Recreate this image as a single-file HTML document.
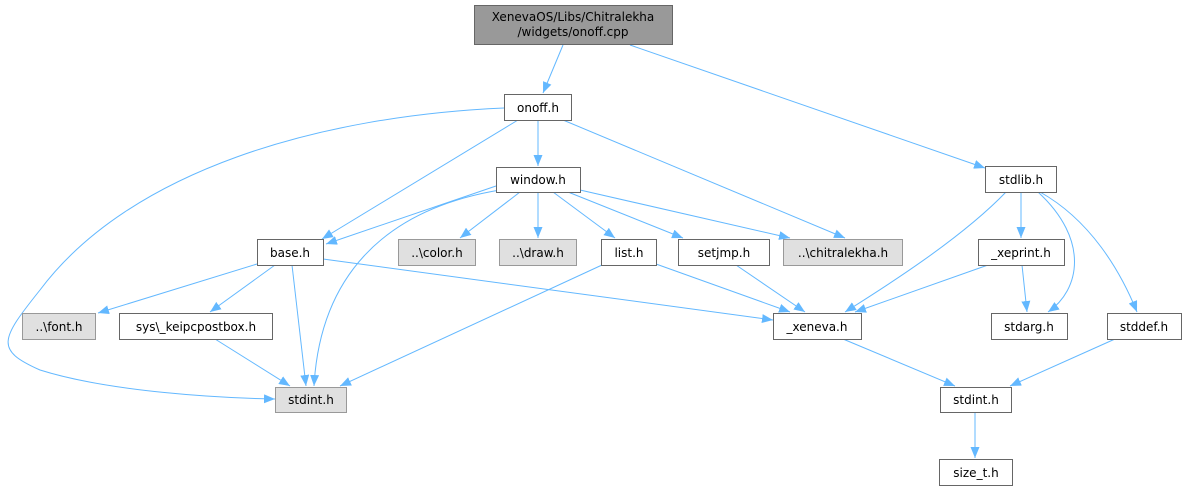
<!DOCTYPE html>
<html><head><meta charset="utf-8"><style>
html,body{margin:0;padding:0;background:#fff;}
svg text{font-family:"DejaVu Sans","Liberation Sans",sans-serif;font-size:12px;fill:#000;text-anchor:middle;}
</style></head><body>
<svg width="1186" height="491" viewBox="0 0 1186 491" xmlns="http://www.w3.org/2000/svg">
<defs><marker id="a" markerWidth="11" markerHeight="9" refX="11" refY="4.5" orient="auto" markerUnits="userSpaceOnUse"><path d="M0,0 L11,4.5 L0,9 z" fill="#63b8ff"/></marker></defs>
<g fill="none" stroke="#63b8ff" stroke-width="1" marker-end="url(#a)">
<path d="M563,45 L543,93"/>
<path d="M630,45 L985,168"/>
<path d="M504,108 C320,116 130,170 40,290 C0,340 -5,350 40,370 C110,392 220,398 275,399"/>
<path d="M518,120 L322,239"/>
<path d="M538,120 L538,166"/>
<path d="M563,120 L845,238"/>
<path d="M496,186 L326,244"/>
<path d="M500,190 C380,210 320,280 314,386"/>
<path d="M520,192 L460,238"/>
<path d="M538,192 L538,238"/>
<path d="M553,192 L615,238"/>
<path d="M568,192 L683,238"/>
<path d="M580,190 L790,238"/>
<path d="M257,264 L98,313"/>
<path d="M275,265 L210,312"/>
<path d="M292,265 L306,386"/>
<path d="M323,259 L773,320"/>
<path d="M602,265 L340,386"/>
<path d="M656,264 L790,312"/>
<path d="M736,265 L805,312"/>
<path d="M215,339 L290,386"/>
<path d="M1006,192 C960,240 880,290 845,312"/>
<path d="M1021,192 L1021,238"/>
<path d="M1038,192 C1090,240 1080,290 1048,312"/>
<path d="M1040,192 C1090,220 1120,270 1137,312"/>
<path d="M988,265 L855,312"/>
<path d="M1022,265 L1027,312"/>
<path d="M843,339 L955,386"/>
<path d="M1115,339 L1010,386"/>
<path d="M975,412 L975,458"/>
</g>
<g stroke-width="1">
<rect x="474.5" y="5.5" width="198" height="39" fill="#999" stroke="#666"/>
<rect x="504.5" y="94.5" width="67" height="26" fill="#fff" stroke="#666"/>
<rect x="496.5" y="167.5" width="84" height="25" fill="#fff" stroke="#666"/>
<rect x="257.5" y="239.5" width="66" height="26" fill="#fff" stroke="#666"/>
<rect x="398.5" y="239.5" width="77" height="26" fill="#e0e0e0" stroke="#999"/>
<rect x="499.5" y="239.5" width="77" height="26" fill="#e0e0e0" stroke="#999"/>
<rect x="601.5" y="239.5" width="55" height="26" fill="#fff" stroke="#666"/>
<rect x="678.5" y="239.5" width="91" height="26" fill="#fff" stroke="#666"/>
<rect x="783.5" y="239.5" width="119" height="26" fill="#e0e0e0" stroke="#999"/>
<rect x="985.5" y="166.5" width="71" height="26" fill="#fff" stroke="#666"/>
<rect x="978.5" y="239.5" width="86" height="26" fill="#fff" stroke="#666"/>
<rect x="22.5" y="313.5" width="73" height="26" fill="#e0e0e0" stroke="#999"/>
<rect x="119.5" y="313.5" width="153" height="26" fill="#fff" stroke="#666"/>
<rect x="773.5" y="313.5" width="88" height="26" fill="#fff" stroke="#666"/>
<rect x="991.5" y="313.5" width="76" height="26" fill="#fff" stroke="#666"/>
<rect x="1107.5" y="313.5" width="74" height="26" fill="#fff" stroke="#666"/>
<rect x="275.5" y="387.5" width="71" height="25" fill="#e0e0e0" stroke="#999"/>
<rect x="940.5" y="387.5" width="71" height="25" fill="#fff" stroke="#666"/>
<rect x="939.5" y="459.5" width="73" height="26" fill="#fff" stroke="#666"/>
</g>
<text x="573" y="21">XenevaOS/Libs/Chitralekha</text>
<text x="573" y="36">/widgets/onoff.cpp</text>
<text x="538" y="112">onoff.h</text>
<text x="538" y="184">window.h</text>
<text x="290" y="257">base.h</text>
<text x="437" y="257">..\color.h</text>
<text x="538" y="257">..\draw.h</text>
<text x="629" y="257">list.h</text>
<text x="724" y="257">setjmp.h</text>
<text x="843" y="257">..\chitralekha.h</text>
<text x="1021" y="184">stdlib.h</text>
<text x="1021" y="257">_xeprint.h</text>
<text x="59" y="331">..\font.h</text>
<text x="196" y="331">sys\_keipcpostbox.h</text>
<text x="817" y="331">_xeneva.h</text>
<text x="1029" y="331">stdarg.h</text>
<text x="1144" y="331">stddef.h</text>
<text x="311" y="404">stdint.h</text>
<text x="976" y="404">stdint.h</text>
<text x="976" y="477">size_t.h</text>
</svg>
</body></html>
